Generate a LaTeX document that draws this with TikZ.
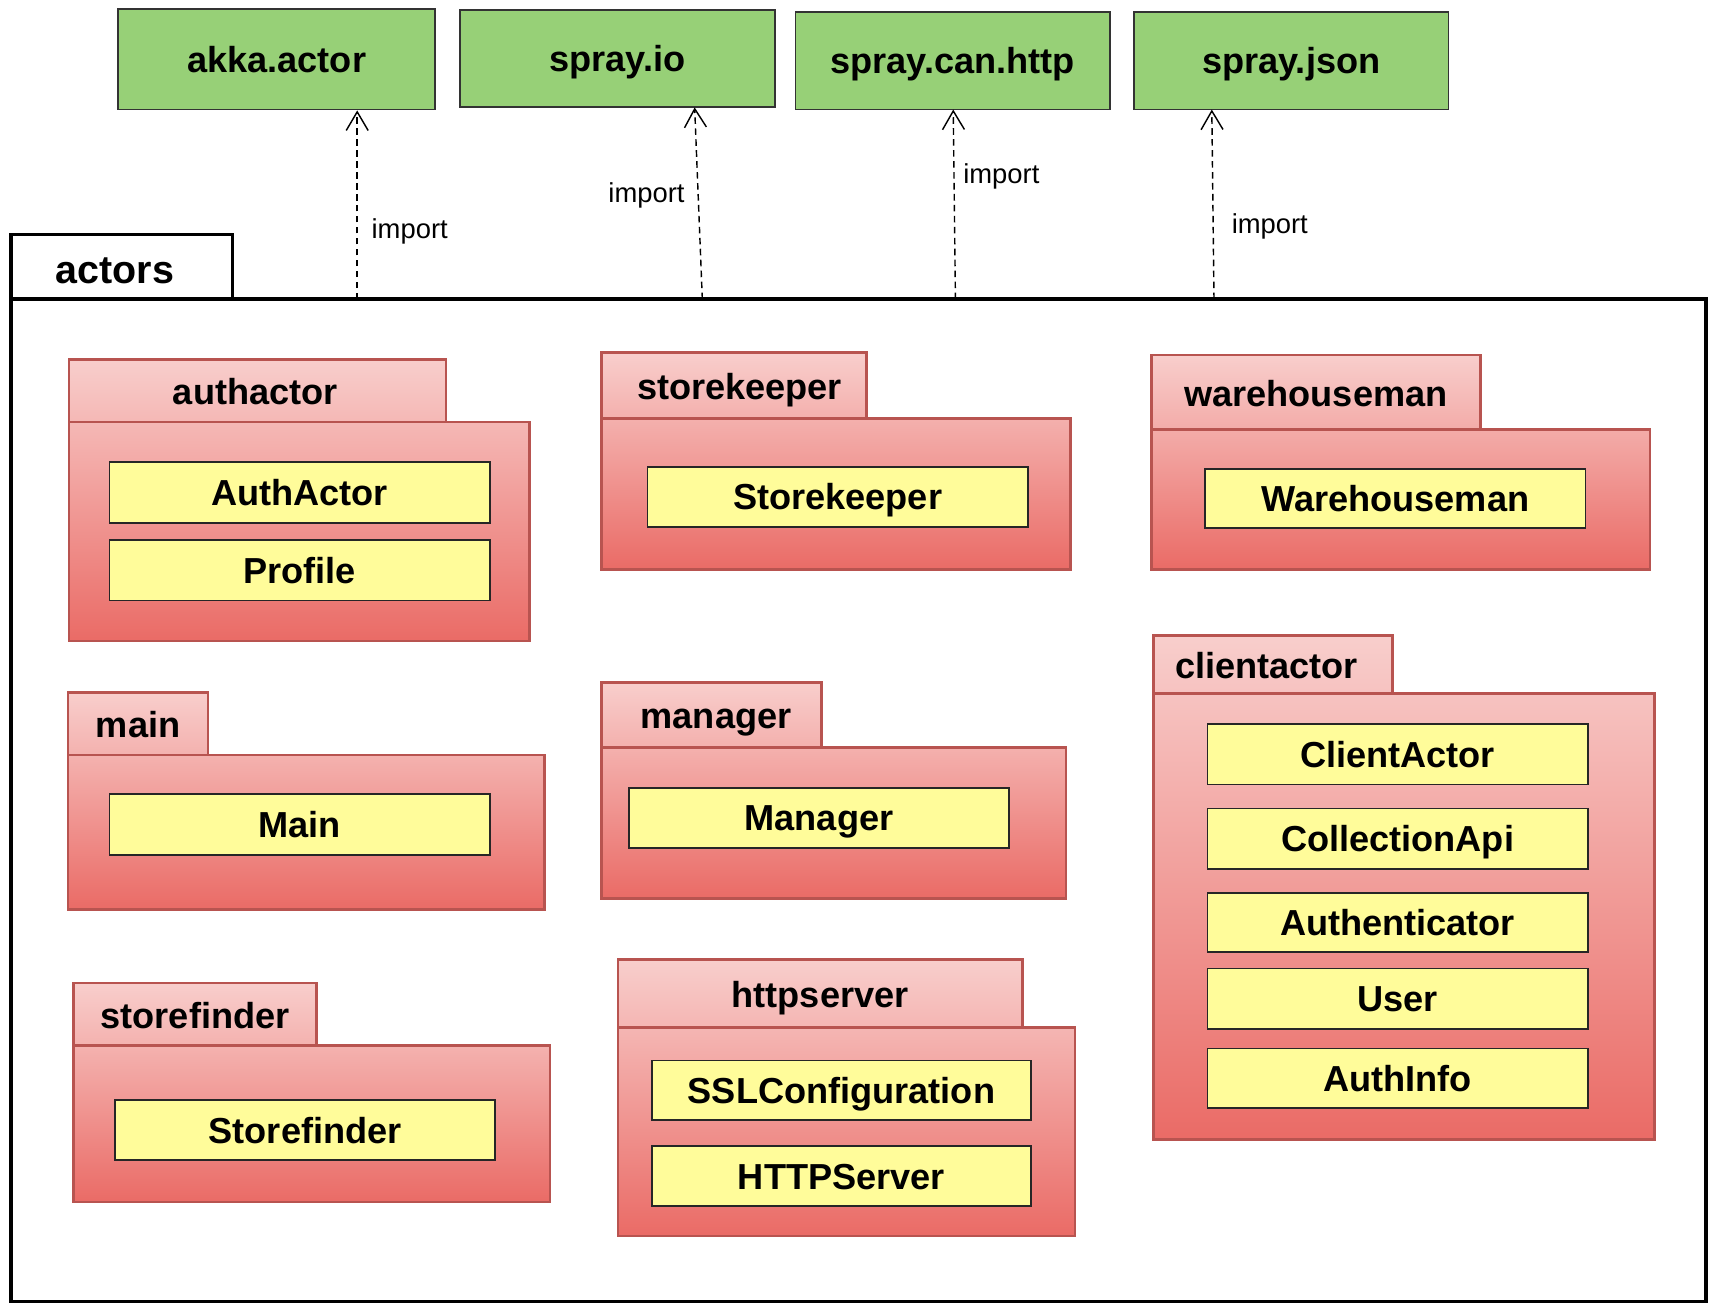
\documentclass[tikz,border=0pt]{standalone}
\usepackage{fontspec}
\setmainfont{Liberation Sans}
\usetikzlibrary{arrows.meta}
\definecolor{grn}{HTML}{97D077}
\definecolor{yel}{HTML}{FFFC9A}
\definecolor{pkgtop}{HTML}{F8CECC}
\definecolor{pkgbot}{HTML}{EA6B66}
\definecolor{pkgstroke}{HTML}{B85450}
\newcommand\pkgbox[8]{%
  \shade[top color=pkgtop, bottom color=pkgbot] (#2,#3) -- (#4,#3) -- (#4,#5) -- (#6,#5) -- (#6,#7) -- (#2,#7) -- cycle;
  \draw[pkgline] (#2,#3) rectangle (#4,#5);
  \draw[pkgline] (#2,#5) rectangle (#6,#7);
  \node[pkglabel] (#1) at ({(#2+#4)/2+#8},{(#3+#5)/2+1}) {#1};
}
\newcommand\clsbox[5]{%
  \node[cls, minimum width={(#4-#2)*1pt}, minimum height={(#5-#3)*1pt}] (#1) at ({(#2+#4)/2},{(#3+#5)/2}) {#1};
}
\newcommand\libbox[6]{%
  \node[lib, minimum width={(#5-#3)*1pt}, minimum height={(#6-#4)*1pt}] (#1) at ({(#3+#5)/2},{(#4+#6)/2}) {#2};
}
\begin{document}
\begin{tikzpicture}[x=1pt,y=-1pt,
  pkgline/.style={draw=pkgstroke, line width=2.4pt},
  pkglabel/.style={font=\fontsize{33}{38}\selectfont\bfseries, inner sep=0pt, text=black, text height=23.5pt, text depth=0pt},
  cls/.style={draw=black!85, line width=1.6pt, fill=yel, inner sep=0pt, font=\fontsize{33}{38}\selectfont\bfseries, text height=23.5pt, text depth=0pt},
  lib/.style={draw=black!80, line width=1.6pt, fill=grn, inner sep=0pt, font=\fontsize{33}{38}\selectfont\bfseries, text height=23.5pt, text depth=0pt},
  imp/.style={line width=1.3pt, dash pattern=on 6pt off 4pt, -{Straight Barb[length=17pt,width=20pt,line width=1.3pt]}},
  implabel/.style={font=\fontsize{25}{29}\selectfont, inner sep=0pt},
  frame/.style={draw=black, line width=3pt}
]
\fill[white] (0,0) rectangle (1568,1196);
\useasboundingbox (0,0) rectangle (1568,1196);

% library boxes
\libbox{akka}{akka.actor}{108}{8}{397}{100}
\libbox{io}{spray.io}{420}{9}{707}{98}
\libbox{can}{spray.can.http}{726}{11}{1013}{100}
\libbox{json}{spray.json}{1035}{11}{1322}{100}

% actors package
\draw[frame] (10,273) rectangle (1557,1188);
\draw[frame] (10,273) -- (10,214) -- (212,214) -- (212,273);
\node[font=\fontsize{36}{42}\selectfont\bfseries, inner sep=0pt] (actors) at (105,247) {actors};

% import connectors
\coordinate (s1) at (326,273);
\coordinate (s2) at (641,273);
\coordinate (t2) at (634,98);
\coordinate (s3) at (872,273);
\coordinate (t3) at (870,100);
\coordinate (s4) at (1108,273);
\coordinate (t4) at (1106,100);
\draw[imp] (s1) -- (s1 |- akka.south);
\draw[imp] (s2) -- (t2);
\draw[imp] (s3) -- (t3);
\draw[imp] (s4) -- (t4);
\node[implabel, anchor=west] (l1) at (339,211) {import};
\node[implabel, anchor=east] (l2) at (625,178) {import};
\node[implabel, anchor=west] (l3) at (879,161) {import};
\node[implabel, anchor=west] (l4) at (1124,207) {import};

% packages
\pkgbox{authactor}{63}{328}{407}{385}{483}{585}{-2}
\clsbox{AuthActor}{100}{422}{447}{477}
\clsbox{Profile}{100}{493}{447}{548}

\pkgbox{main}{62}{632}{190}{689}{497}{830}{0}
\clsbox{Main}{100}{725}{447}{780}

\pkgbox{storefinder}{67}{897}{289}{954}{502}{1097}{0}
\clsbox{Storefinder}{105}{1004}{452}{1059}

\pkgbox{storekeeper}{549}{322}{791}{382}{977}{520}{5}
\clsbox{Storekeeper}{591}{426}{938}{481}

\pkgbox{manager}{549}{623}{750}{682}{973}{820}{4}
\clsbox{Manager}{574}{719}{921}{774}

\pkgbox{httpserver}{564}{876}{933}{938}{981}{1128}{0}
\clsbox{SSLConfiguration}{595}{968}{941}{1022}
\clsbox{HTTPServer}{595}{1046}{941}{1101}

\pkgbox{warehouseman}{1051}{324}{1351}{392}{1506}{520}{0}
\clsbox{Warehouseman}{1100}{428}{1447}{482}

\pkgbox{clientactor}{1053}{580}{1271}{633}{1510}{1040}{-6}
\clsbox{ClientActor}{1102}{661}{1449}{716}
\clsbox{CollectionApi}{1102}{738}{1449}{793}
\clsbox{Authenticator}{1102}{815}{1449}{869}
\clsbox{User}{1102}{884}{1449}{939}
\clsbox{AuthInfo}{1102}{957}{1449}{1011}
\end{tikzpicture}
\end{document}
